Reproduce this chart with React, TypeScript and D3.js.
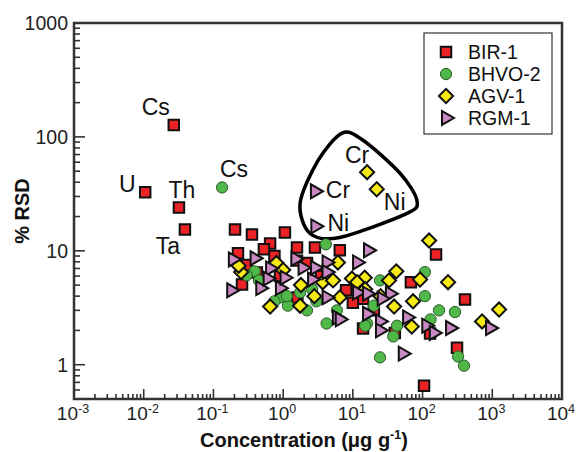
import React, { useEffect, useRef } from 'react'
import * as d3 from 'd3'

const width = 579
const height = 452
const margin = { left: 74, top: 23, right: 17, bottom: 53 }

// axis ticks
const xTickExps = [-3, -2, -1, 0, 1, 2, 3, 4]
const yTickValues = [1, 10, 100, 1000]

// BIR-1 (red squares)
const birConc = [0.027, 0.0105, 0.032, 0.039, 0.204, 0.357, 1.06, 0.65, 0.53, 0.225, 1.58, 2.86, 6.5, 0.257, 0.42, 1.58, 2.2, 14, 14, 156, 68, 406, 312, 105, 128, 40, 1.6, 0.3, 10, 0.75, 3.5, 8, 20, 0.9]
const birRsd = [127, 32.6, 24, 15.4, 15.4, 13.9, 14.5, 11.6, 10.3, 9.5, 10.7, 10.7, 10.1, 5.06, 6.45, 8.2, 7.8, 3.8, 2.08, 9.3, 5.3, 3.74, 1.41, 0.655, 1.88, 1.9, 3.9, 7.5, 3.5, 9.0, 6.0, 4.5, 3.0, 6.0]

// BHVO-2 (green circles)
const bhvoConc = [0.133, 4.1, 0.39, 0.3, 0.9, 1.17, 1.13, 2.2, 1.75, 2.6, 4.2, 5.9, 16, 24.5, 24.5, 108, 108, 172, 292, 130, 15, 43, 38, 323, 393, 0.45, 20, 0.75, 3.0, 12]
const bhvoRsd = [36, 11.4, 6.6, 6.1, 3.9, 3.3, 4.0, 3.0, 4.3, 4.6, 2.3, 3.0, 2.3, 1.16, 5.5, 6.5, 4.0, 3.0, 2.9, 2.5, 2.2, 2.2, 1.77, 1.18, 0.98, 5.5, 3.3, 3.6, 3.6, 4.5]

// AGV-1 (yellow diamonds)
const agvConc = [16, 22, 124, 42, 33, 92, 232, 73, 39, 1250, 713, 70, 14.8, 15, 0.25, 0.23, 0.65, 0.8, 1.8, 1.75, 3.7, 5.2, 6.1, 9.7, 11.5, 6.5, 1.0, 25, 2.8]
const agvRsd = [49, 34.7, 12.3, 6.6, 5.5, 5.6, 5.3, 3.6, 3.24, 3.05, 2.4, 2.16, 5.8, 4.6, 6.5, 7.4, 3.24, 7.8, 5.0, 3.3, 5.3, 5.5, 7.9, 5.7, 5.3, 3.9, 6.8, 4.0, 4.0]

// RGM-1 (purple triangles)
const rgmConc = [2.86, 2.9, 16.5, 0.39, 0.47, 0.65, 0.6, 0.9, 1.05, 1.9, 2.6, 2.86, 4.2, 4.2, 11.5, 4.2, 5.9, 6.5, 11.5, 16, 16, 34, 26, 24.5, 24.5, 60, 113, 145, 248, 929, 52, 0.19, 0.18, 1.5]
const rgmRsd = [33.3, 16.4, 10.1, 8.6, 4.7, 7.0, 5.7, 4.7, 5.8, 7.1, 5.6, 7.1, 7.9, 6.5, 7.9, 3.9, 2.6, 2.5, 4.3, 4.2, 2.8, 4.2, 3.8, 2.4, 2.0, 2.6, 2.2, 1.9, 2.1, 2.1, 1.25, 8.4, 4.5, 8.5]

// outline drawn around the Cr / Ni group (data space)
const loopConc = [7.0, 14, 47.5, 83, 60, 6.5, 2.43, 1.75, 3.16]
const loopRsd = [108, 93.5, 48, 27.7, 21.3, 13.1, 14.2, 26.1, 62]

const series = [
  { name: 'BIR-1', conc: birConc, rsd: birRsd, shape: 'square', fill: '#ec2227', stroke: '#111', sw: 2 },
  { name: 'BHVO-2', conc: bhvoConc, rsd: bhvoRsd, shape: 'circle', fill: '#4fb848', stroke: '#2d5a2a', sw: 1 },
  { name: 'AGV-1', conc: agvConc, rsd: agvRsd, shape: 'diamond', fill: '#f6ea14', stroke: '#111', sw: 2 },
  { name: 'RGM-1', conc: rgmConc, rsd: rgmRsd, shape: 'triangle', fill: '#c98ac3', stroke: '#111', sw: 2 },
]

// element labels: series index, point index, text, offset
const annotations = [
  { s: 0, i: 0, text: 'Cs', dx: -18, dy: -18 },
  { s: 0, i: 1, text: 'U', dx: -18, dy: -8 },
  { s: 0, i: 2, text: 'Th', dx: 3, dy: -18 },
  { s: 0, i: 3, text: 'Ta', dx: -17, dy: 17 },
  { s: 1, i: 0, text: 'Cs', dx: 12, dy: -18 },
  { s: 2, i: 0, text: 'Cr', dx: -10, dy: -17 },
  { s: 2, i: 1, text: 'Ni', dx: 18, dy: 13 },
  { s: 3, i: 0, text: 'Cr', dx: 23, dy: -1 },
  { s: 3, i: 1, text: 'Ni', dx: 23, dy: -3 },
]

const symbolPath = (shape: string) => {
  if (shape === 'square') return d3.symbol(d3.symbolSquare, 110)()
  if (shape === 'circle') return d3.symbol(d3.symbolCircle, 100)()
  if (shape === 'diamond') return d3.symbol(d3.symbolSquare, 100)()
  return d3.symbol(d3.symbolTriangle, 84)()
}
const symbolRotate = (shape: string) => shape === 'diamond' ? 45 : shape === 'triangle' ? 90 : 0

export default function App() {
  const svgRef = useRef<SVGSVGElement>(null)

  useEffect(() => {
    const svg = d3.select(svgRef.current)
    svg.selectAll('*').remove()

    const x = d3.scaleLog().domain([1e-3, 1e4]).range([margin.left, width - margin.right])
    const y = d3.scaleLog().domain([0.5, 1000]).range([height - margin.bottom, margin.top])

    const font = 'Liberation Sans, Arial, sans-serif'
    const axisColor = '#333'
    const x0 = margin.left, x1 = width - margin.right
    const y0 = height - margin.bottom, y1 = margin.top

    // minor + major ticks
    const ticks = svg.append('g').attr('stroke', axisColor).attr('stroke-width', 1.6)
    for (let e = -3; e < 4; e++) {
      for (let k = 1; k < 10; k++) {
        const v = k * Math.pow(10, e)
        const len = k === 1 ? 10 : 5
        if (k === 1 && e === -3) continue
        ticks.append('line').attr('x1', x(v)).attr('x2', x(v)).attr('y1', y0).attr('y2', y0 - len)
      }
    }
    for (let e = -1; e < 3; e++) {
      for (let k = 1; k < 10; k++) {
        const v = k * Math.pow(10, e)
        if (v < 0.5) continue
        const len = k === 1 ? 11 : 6
        ticks.append('line').attr('x1', x0).attr('x2', x0 + len).attr('y1', y(v)).attr('y2', y(v))
      }
    }

    // frame
    svg.append('rect')
      .attr('x', x0).attr('y', y1).attr('width', x1 - x0).attr('height', y0 - y1)
      .attr('fill', 'none').attr('stroke', axisColor).attr('stroke-width', 2.5)

    // y tick labels
    svg.append('g').selectAll('text').data(yTickValues).join('text')
      .attr('x', x0 - 6).attr('y', d => y(d)).attr('dy', '0.35em')
      .attr('text-anchor', 'end').attr('font-family', font).attr('font-size', 19.5).attr('fill', '#222')
      .text(d => String(d))

    // x tick labels 10^n
    const xl = svg.append('g').selectAll('text').data(xTickExps).join('text')
      .attr('x', d => x(Math.pow(10, d)) - 1).attr('y', y0 + 21)
      .attr('text-anchor', 'middle').attr('font-family', font).attr('font-size', 19).attr('fill', '#222')
    xl.append('tspan').text('10')
    xl.append('tspan').attr('font-size', 12.5).attr('dy', -7).text(d => String(d))

    // axis titles
    svg.append('text')
      .attr('transform', `translate(29, ${(y0 + y1) / 2}) rotate(-90)`)
      .attr('text-anchor', 'middle').attr('font-family', font).attr('font-weight', 'bold')
      .attr('font-size', 20).attr('fill', '#111').text('% RSD')
    const xt = svg.append('text')
      .attr('x', 304).attr('y', 447)
      .attr('text-anchor', 'middle').attr('font-family', font).attr('font-weight', 'bold')
      .attr('font-size', 20).attr('fill', '#111')
    xt.append('tspan').text('Concentration (\u03bcg g')
    xt.append('tspan').attr('font-size', 12.5).attr('dy', -8).text('-1')
    xt.append('tspan').attr('dy', 8).text(')')

    // loop outline
    const loopPts: [number, number][] = loopConc.map((c, i) => [x(c), y(loopRsd[i])])
    svg.append('path')
      .attr('d', d3.line().curve(d3.curveCardinalClosed.tension(0.1))(loopPts))
      .attr('fill', 'none').attr('stroke', '#000').attr('stroke-width', 3.5)

    // points
    series.forEach(s => {
      svg.append('g').selectAll('path').data(s.conc.map((c, i) => [c, s.rsd[i]])).join('path')
        .attr('d', symbolPath(s.shape))
        .attr('transform', d => `translate(${x(d[0])},${y(d[1])}) rotate(${symbolRotate(s.shape)})`)
        .attr('fill', s.fill).attr('stroke', s.stroke).attr('stroke-width', s.sw)
        .attr('stroke-linejoin', 'miter')
    })

    // element labels
    svg.append('g').selectAll('text').data(annotations).join('text')
      .attr('x', d => x(series[d.s].conc[d.i]) + d.dx)
      .attr('y', d => y(series[d.s].rsd[d.i]) + d.dy)
      .attr('dy', '0.35em').attr('text-anchor', 'middle')
      .attr('font-family', font).attr('font-size', 23).attr('fill', '#111')
      .text(d => d.text)

    // legend
    const lg = svg.append('g')
    lg.append('rect').attr('x', 424).attr('y', 33).attr('width', 128).attr('height', 101)
      .attr('fill', '#fff').attr('stroke', '#333').attr('stroke-width', 1.2)
    series.forEach((s, i) => {
      const ly = 52 + i * 22
      lg.append('path').attr('d', symbolPath(s.shape))
        .attr('transform', `translate(446,${ly}) rotate(${symbolRotate(s.shape)})`)
        .attr('fill', s.fill).attr('stroke', s.stroke).attr('stroke-width', s.sw)
      lg.append('text').attr('x', 468).attr('y', ly).attr('dy', '0.35em')
        .attr('font-family', font).attr('font-size', 19.5).attr('fill', '#111').text(s.name)
    })
  }, [])

  return (
    <svg ref={svgRef} width={width} height={height}
      style={{ position: 'absolute', left: 0, top: 0, background: '#fff' }} />
  )
}
